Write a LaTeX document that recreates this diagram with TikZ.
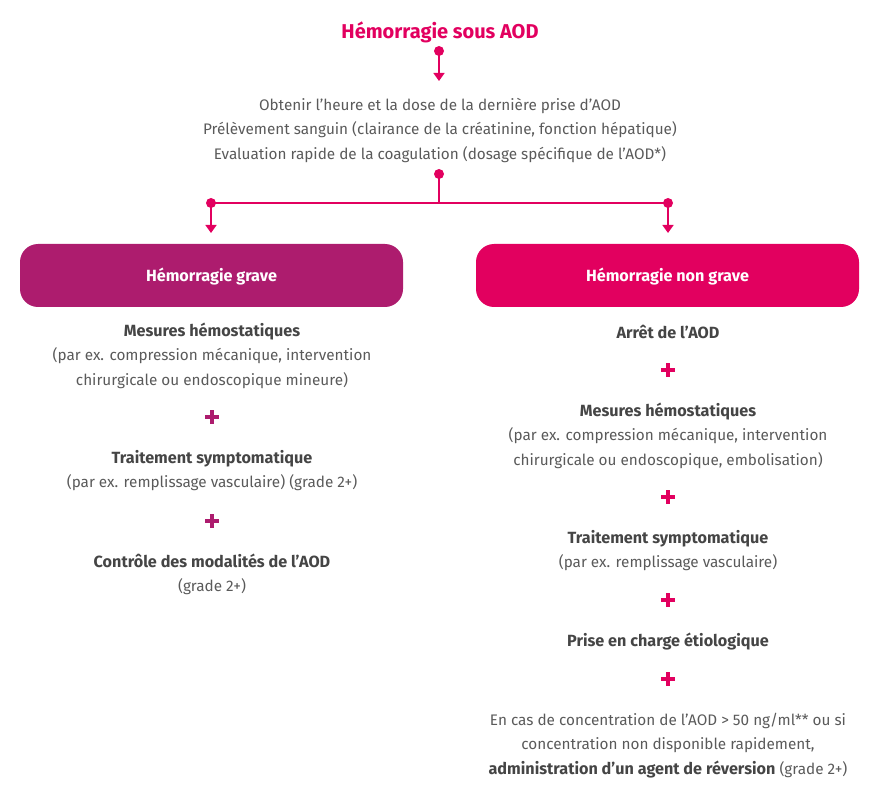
\documentclass[tikz,border=0pt]{standalone}
\usepackage{fontspec}
\setmainfont{Fira Sans}
\usetikzlibrary{arrows.meta}

\definecolor{rose}{HTML}{E2005F}
\definecolor{prune}{HTML}{AD1C6E}
\definecolor{gris}{HTML}{5A5A5A}
\definecolor{fonce}{HTML}{454545}
\newcommand{\titr}[1]{{\color{fonce}\fontsize{16.2}{24.5}\selectfont\bfseries #1}}

\tikzset{
  dot/.style={circle, fill=rose, inner sep=0pt, minimum size=10pt},
  lien/.style={draw=rose, line width=1.6pt},
  fleche/.style={lien, -{Triangle[length=8pt,width=11pt]}},
  texte/.style={align=center, text=gris, yshift=-1.5pt, font=\fontsize{15.3}{24.5}\selectfont},
  boite/.style={rounded corners=18pt, minimum width=383pt, minimum height=63pt,
    text height=14pt, text depth=1pt,
    text=white, font=\fontsize{16.2}{18}\selectfont\bfseries},
  plus/.style={minimum size=14pt, inner sep=0pt,
    path picture={\draw[#1, line width=4.5pt]
      (path picture bounding box.north) -- (path picture bounding box.south)
      (path picture bounding box.west) -- (path picture bounding box.east);}}
}

\begin{document}
\begin{tikzpicture}[x=1pt, y=-1pt]
  \useasboundingbox (0,0) rectangle (880,799);

  % Titre et premier bilan
  \node[text=rose, font=\fontsize{20}{22}\selectfont\bfseries] (titre) at (440,32) {Hémorragie sous AOD};
  \node[dot] (d1) at (439,51) {};
  \coordinate (a1) at (439,81);
  \draw[fleche] (d1.center) -- (a1);
  \node[texte] (bilan) at (440,129) {Obtenir l'heure et la dose de la dernière prise d'AOD\\
    Prélèvement sanguin (clairance de la créatinine, fonction hépatique)\\
    Evaluation rapide de la coagulation (dosage spécifique de l'AOD*)};

  % Embranchement
  \node[dot] (d2) at (439,174) {};
  \coordinate (j) at (439,203);
  \node[dot] (dg) at (211,203) {};
  \node[dot] (dd) at (668,203) {};
  \coordinate (ag) at (211,233);
  \coordinate (ad) at (668,233);
  \draw[lien] (d2.center) -- (j);
  \draw[lien] (dg.center) -- (dd.center);
  \draw[fleche] (dg.center) -- (ag);
  \draw[fleche] (dd.center) -- (ad);

  \node[boite, fill=prune] (grave) at (211.5,275.5) {Hémorragie grave};
  \node[boite, fill=rose] (nongrave) at (667.5,275.5) {Hémorragie non grave};

  % Colonne de gauche
  \node[texte] (hemog) at (212,354) {\titr{Mesures hémostatiques}\\
    (par ex. compression mécanique, intervention\\chirurgicale ou endoscopique mineure)};
  \node[plus=prune] (pg1) at (212,417) {};
  \node[texte] (sympg) at (212,469) {\titr{Traitement symptomatique}\\
    (par ex. remplissage vasculaire) (grade 2+)};
  \node[plus=prune] (pg2) at (212,521) {};
  \node[texte] (modal) at (212,573) {\titr{Contrôle des modalités de l'AOD}\\(grade 2+)};

  % Colonne de droite
  \node[texte] (arret) at (668,330) {\titr{Arrêt de l'AOD}};
  \node[plus=rose] (pd1) at (668,370) {};
  \node[texte] (hemod) at (668,434) {\titr{Mesures hémostatiques}\\
    (par ex. compression mécanique, intervention\\chirurgicale ou endoscopique, embolisation)};
  \node[plus=rose] (pd2) at (668,497) {};
  \node[texte] (sympd) at (668,549) {\titr{Traitement symptomatique}\\
    (par ex. remplissage vasculaire)};
  \node[plus=rose] (pd3) at (668,600) {};
  \node[texte] (etio) at (668,640) {\titr{Prise en charge étiologique}};
  \node[plus=rose] (pd4) at (668,679) {};
  \node[texte] (revers) at (668,744) {En cas de concentration de l'AOD > 50 ng/ml** ou si\\
    concentration non disponible rapidement,\\
    \titr{administration d'un agent de réversion} (grade 2+)};
\end{tikzpicture}
\end{document}
